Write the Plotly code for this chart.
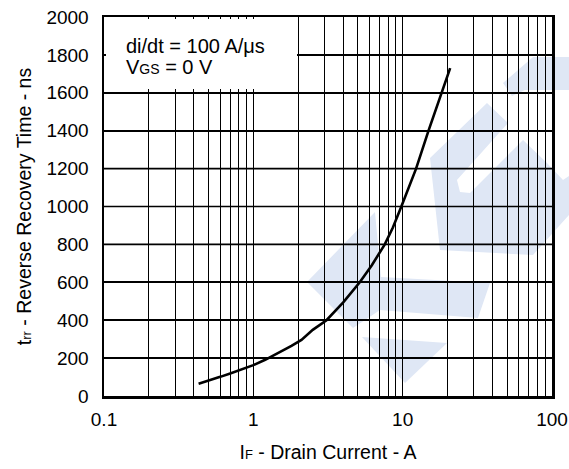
import plotly.graph_objects as go

# ---- data ----
drain_current_A = [0.43, 0.5, 0.6, 0.7, 0.8, 1.0, 1.2, 1.5, 1.8, 2.1, 2.5, 3.09, 4.0, 5.16,
                   6.2, 7.59, 8.6, 9.8, 12.3, 14.9, 18.2, 20.8]
trr_ns = [65, 80, 101, 119, 136, 163, 191, 229, 264, 296, 349, 400, 494, 600,
          689, 800, 889, 1000, 1200, 1400, 1600, 1730]

x_tick_vals = [m * 10 ** e for e in (-1, 0, 1) for m in range(1, 10)] + [100]
decade_labels = {0.1: "0.1", 1: "1", 10: "10", 100: "100"}
x_tick_text = [decade_labels.get(v, "") for v in x_tick_vals]
y_tick_vals = list(range(0, 2001, 200))

W, H = 569, 469
L, R, T, B = 104, 552, 17, 396   # plot area in pixels

def to_paper(pts):
    return [((x - L) / (R - L), (B - y) / (B - T)) for x, y in pts]

def path(pts):
    return "M " + " L ".join(f"{a:.4f},{b:.4f}" for a, b in to_paper(pts)) + " Z"

# watermark outlines, in pixels
watermark_polys = [
    [(503, 83), (533, 57), (569, 57), (569, 90), (525, 90), (512, 96)],
    [(430, 158), (487, 103), (508, 123), (457, 180), (460, 192), (470, 193), (523, 140),
     (547, 163), (563, 180), (569, 176), (569, 215), (533, 255), (440, 250)],
    [(307, 282), (375, 212), (381, 277), (490, 283), (478, 318), (380, 310), (353, 328)],
    [(362, 337), (447, 343), (405, 383)],
]

fig = go.Figure()
fig.add_trace(go.Scatter(x=drain_current_A, y=trr_ns, mode="lines",
                         line=dict(color="black", width=2.6),
                         hoverinfo="skip", showlegend=False))

shapes = []
for poly in watermark_polys:
    shapes.append(dict(type="path", path=path(poly), xref="paper", yref="paper",
                       fillcolor="#dfe7f5", line=dict(width=0), layer="below"))
# horizontal grid lines at the y ticks
for v in y_tick_vals[1:-1]:
    shapes.append(dict(type="line", xref="x domain", yref="y", x0=0, x1=1, y0=v, y1=v,
                       line=dict(color="black", width=1.6), layer="above"))
# white legend box covering the grid
bx0, bx1, by0, by1 = 106, 297, 89, 19
(px0, py0), (px1, py1) = to_paper([(bx0, by0), (bx1, by1)])
shapes.append(dict(type="rect", xref="paper", yref="paper", x0=px0, x1=px1, y0=py0, y1=py1,
                   fillcolor="white", line=dict(width=0), layer="above"))
fig.update_layout(shapes=shapes)

FONT = "Liberation Sans, Arial, sans-serif"
ax0, a1y = to_paper([(124, 46)])[0]
_, a2y = to_paper([(124, 67)])[0]
fig.add_annotation(xref="paper", yref="paper", x=ax0, y=a1y,
                   xanchor="left", yanchor="middle", align="left", showarrow=False,
                   text="di/dt = 100 A/μs", font=dict(family=FONT, size=20, color="black"))
fig.add_annotation(xref="paper", yref="paper", x=ax0, y=a2y,
                   xanchor="left", yanchor="middle", align="left", showarrow=False,
                   text="V<span style='font-size:14px'>GS</span> = 0 V",
                   font=dict(family=FONT, size=20, color="black"))

fig.update_layout(
    width=W, height=H,
    margin=dict(l=L, r=W - R, t=T, b=H - B),
    paper_bgcolor="white", plot_bgcolor="rgba(0,0,0,0)",
    font=dict(family=FONT, size=19, color="black"),
    xaxis=dict(type="log", range=[-1, 2], tickvals=x_tick_vals, ticktext=x_tick_text,
               showgrid=True, gridcolor="black", gridwidth=1, ticks="", zeroline=False,
               showline=True, linecolor="black", linewidth=2.5, mirror=True, automargin=False,
               tickfont=dict(size=19), ticklabelstandoff=5, ticklabeloverflow="allow",
               title=dict(text="I<span style='font-size:13px'>F</span> - Drain Current - A", standoff=16,
                          font=dict(size=19.5))),
    yaxis=dict(range=[0, 2000], tickvals=y_tick_vals, showgrid=True, gridcolor="black", gridwidth=1.6,
               ticks="", zeroline=False, showline=True, linecolor="black", linewidth=2.5, mirror=True,
               automargin=False, tickfont=dict(size=19), ticklabelstandoff=9, ticklabeloverflow="allow",
               title=dict(text="t<span style='font-size:13px'>rr</span> - Reverse Recovery Time - ns", standoff=10,
                          font=dict(size=19.5))),
)

# remove the default page margin so the 569x469 figure fills the window exactly
fig.write_html("out.html", config={"displayModeBar": False, "staticPlot": True},
               post_script="document.body.style.margin='0';document.body.style.overflow='hidden';")
